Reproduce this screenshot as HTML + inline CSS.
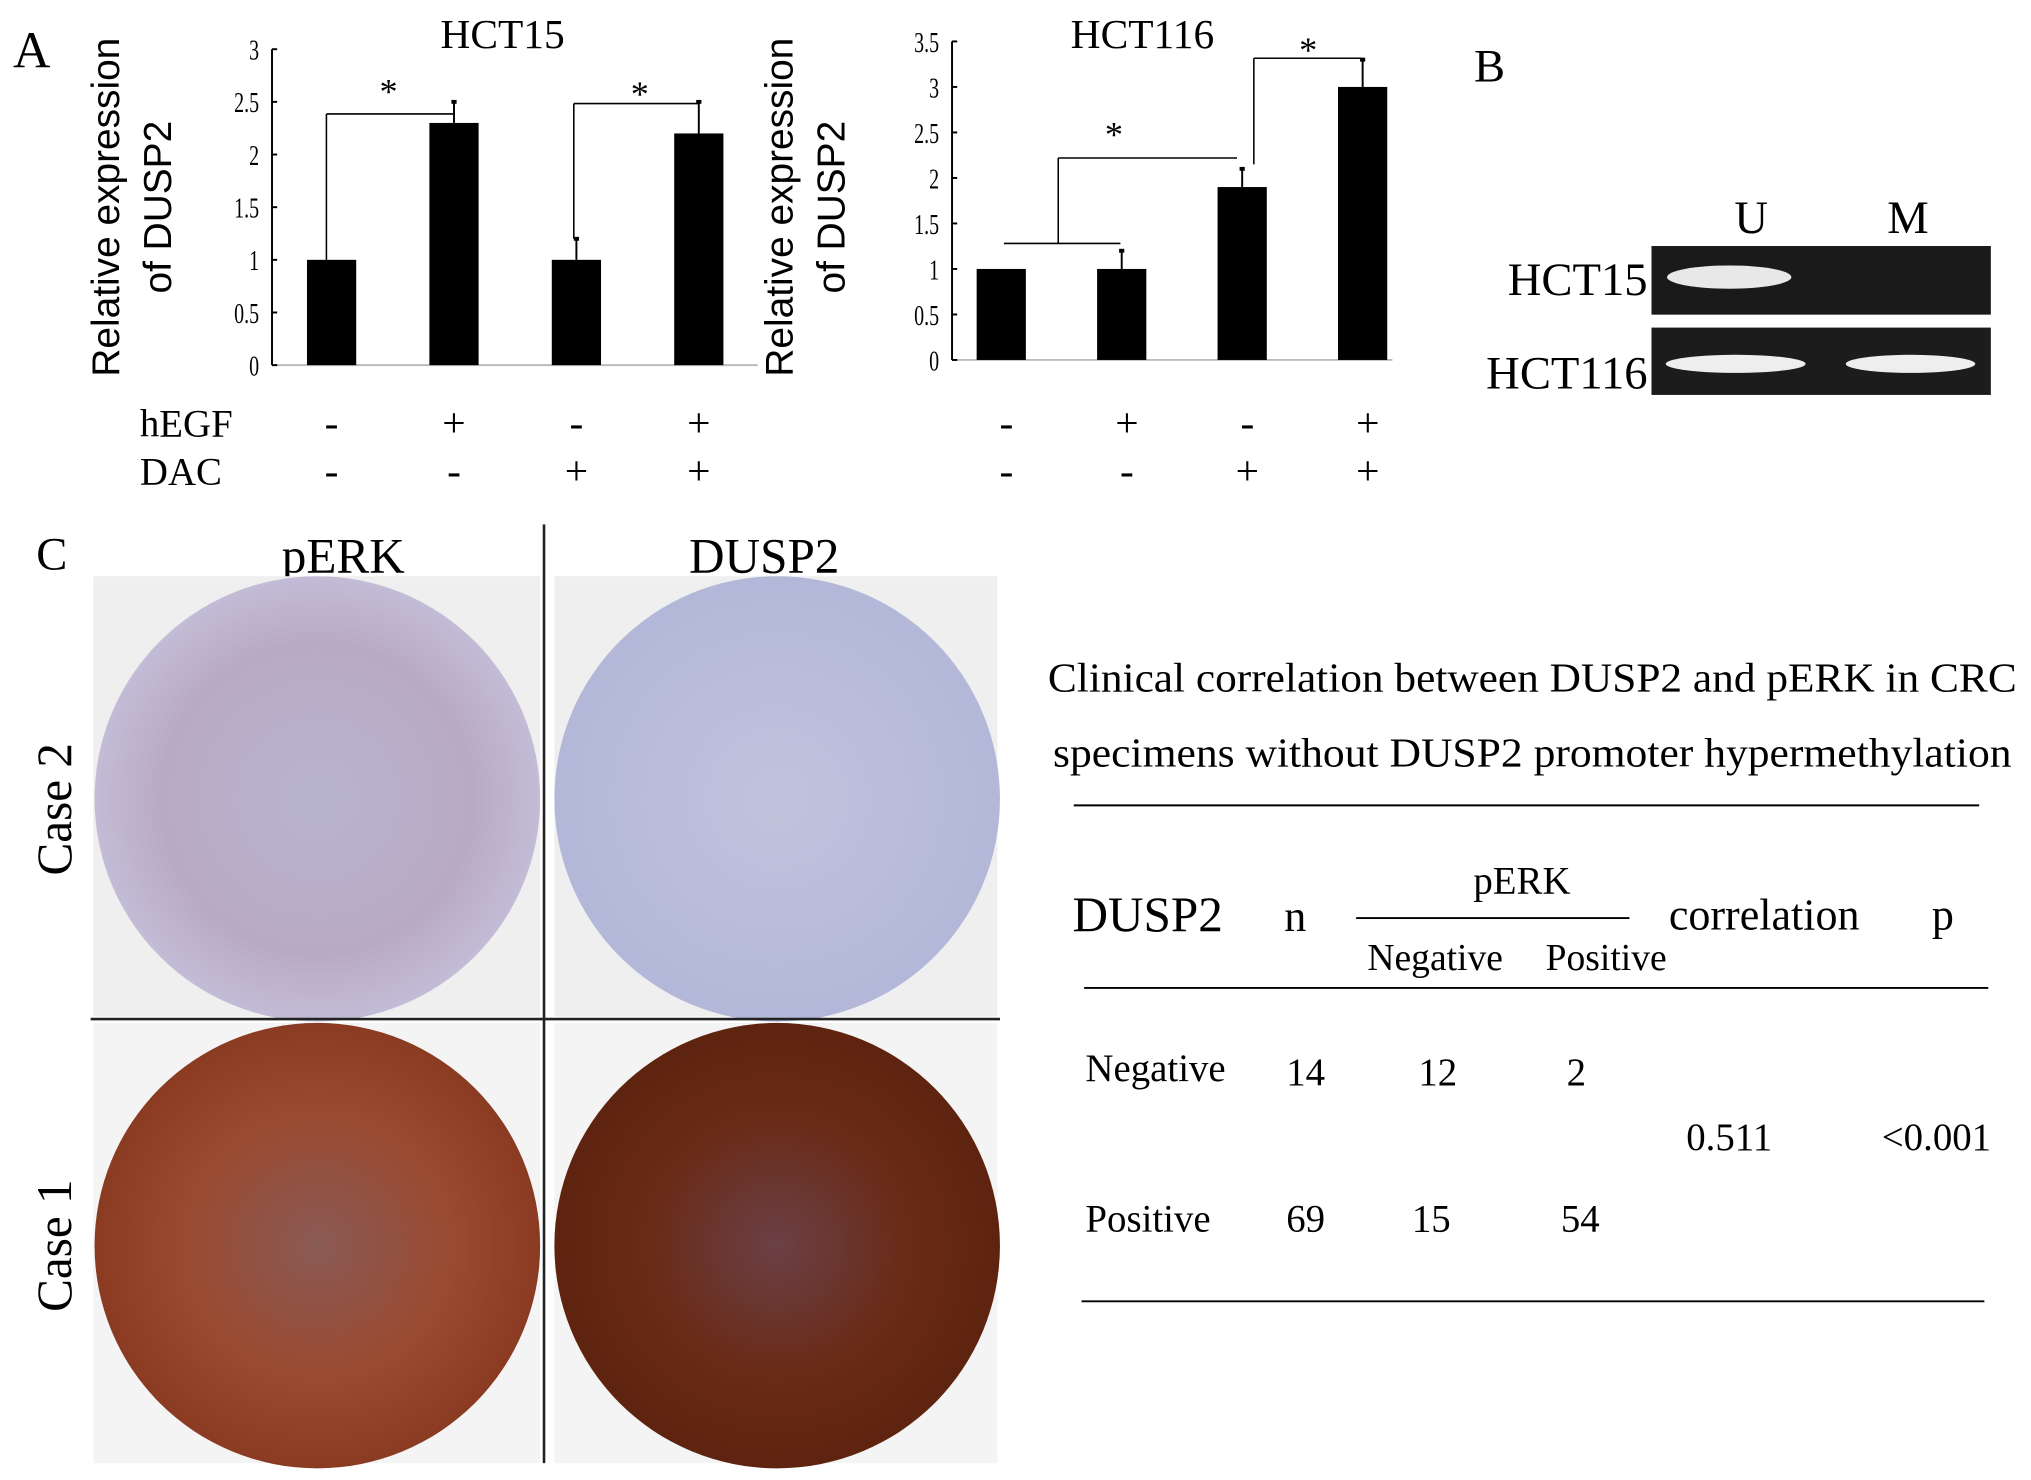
<!DOCTYPE html>
<html><head><meta charset="utf-8"><style>
html,body{margin:0;padding:0;background:#fff;}
svg{display:block;}
text{font-family:"Liberation Serif",serif;fill:#000;}
</style></head><body>
<svg id="fig" width="2031" height="1480" viewBox="0 0 1568 1143" preserveAspectRatio="none" xmlns="http://www.w3.org/2000/svg">
<defs>
<radialGradient id="g1" cx="50%" cy="50%" r="50%"><stop offset="0" stop-color="#b8b4cf"/><stop offset="0.7" stop-color="#b9aac4"/><stop offset="1" stop-color="#c3bcd6"/></radialGradient>
<radialGradient id="g2" cx="50%" cy="50%" r="50%"><stop offset="0" stop-color="#c1c3dd"/><stop offset="1" stop-color="#b3b8d8"/></radialGradient>
<radialGradient id="g3" cx="50%" cy="50%" r="50%"><stop offset="0" stop-color="#8a5a55"/><stop offset="0.6" stop-color="#9a4a30"/><stop offset="1" stop-color="#8a3b22"/></radialGradient>
<radialGradient id="g4" cx="50%" cy="50%" r="50%"><stop offset="0" stop-color="#6b4046"/><stop offset="0.6" stop-color="#6a2a15"/><stop offset="1" stop-color="#5e240f"/></radialGradient>
</defs>
<text x="10" y="52" font-size="40">A</text>
<text x="108" y="337" font-size="30">hEGF</text>
<text x="108" y="374" font-size="30">DAC</text>
<g id="c1"></g>
<g id="c2"></g>
<!-- B -->
<text x="1138" y="63" font-size="36">B</text>
<text x="1352" y="180" font-size="36" text-anchor="middle">U</text>
<text x="1473" y="180" font-size="36" text-anchor="middle">M</text>
<text x="1272" y="228" font-size="36" text-anchor="end">HCT15</text>
<text x="1272" y="300" font-size="36" text-anchor="end">HCT116</text>
<rect x="1275" y="190" width="262" height="53" fill="#1a1a1a"/>
<ellipse cx="1335" cy="214" rx="48" ry="9" fill="#e8e8e8"/>
<rect x="1275" y="253" width="262" height="52" fill="#1c1c1c"/>
<ellipse cx="1340" cy="281" rx="54" ry="7" fill="#eee"/>
<ellipse cx="1475" cy="281" rx="50" ry="7" fill="#eee"/>
<!-- C -->
<text x="28" y="440" font-size="36">C</text>
<text x="265" y="442" font-size="38" text-anchor="middle">pERK</text>
<text x="590" y="442" font-size="38" text-anchor="middle">DUSP2</text>
<rect x="72" y="445" width="345" height="340" fill="#efefef"/>
<rect x="428" y="445" width="342" height="340" fill="#efefef"/>
<rect x="72" y="790" width="345" height="340" fill="#f4f4f4"/>
<rect x="428" y="790" width="342" height="340" fill="#f4f4f4"/>
<circle cx="245" cy="617" r="172" fill="url(#g1)"/>
<circle cx="600" cy="617" r="172" fill="url(#g2)"/>
<circle cx="245" cy="962" r="172" fill="url(#g3)"/>
<circle cx="600" cy="962" r="172" fill="url(#g4)"/>
<line x1="420" y1="405" x2="420" y2="1130" stroke="#222" stroke-width="2"/>
<line x1="70" y1="787" x2="772" y2="787" stroke="#222" stroke-width="2"/>
<text transform="translate(55,625) rotate(-90)" font-size="38" text-anchor="middle">Case 2</text>
<text transform="translate(55,962) rotate(-90)" font-size="38" text-anchor="middle">Case 1</text>
<g>
<text x="1183" y="534" font-size="32" text-anchor="middle" textLength="748" lengthAdjust="spacingAndGlyphs">Clinical correlation between DUSP2 and pERK in CRC</text>
<text x="1183" y="592" font-size="32" text-anchor="middle" textLength="740" lengthAdjust="spacingAndGlyphs">specimens without DUSP2 promoter hypermethylation</text>
<line x1="829" y1="622" x2="1528" y2="622" stroke="#000" stroke-width="1.5"/>
<text x="828" y="719" font-size="38">DUSP2</text>
<text x="1000" y="719" font-size="34" text-anchor="middle">n</text>
<text x="1175" y="690" font-size="30" text-anchor="middle">pERK</text>
<line x1="1047" y1="709" x2="1258" y2="709" stroke="#000" stroke-width="1.5"/>
<text x="1108" y="749" font-size="29" text-anchor="middle">Negative</text>
<text x="1240" y="749" font-size="29" text-anchor="middle">Positive</text>
<text x="1362" y="718" font-size="34" text-anchor="middle">correlation</text>
<text x="1500" y="718" font-size="34" text-anchor="middle">p</text>
<line x1="837" y1="763" x2="1535" y2="763" stroke="#000" stroke-width="1.5"/>
<text x="838" y="835" font-size="30">Negative</text>
<text x="1008" y="838" font-size="30" text-anchor="middle">14</text>
<text x="1110" y="838" font-size="30" text-anchor="middle">12</text>
<text x="1217" y="838" font-size="30" text-anchor="middle">2</text>
<text x="1335" y="888" font-size="30" text-anchor="middle">0.511</text>
<text x="1495" y="888" font-size="30" text-anchor="middle">&lt;0.001</text>
<text x="838" y="951" font-size="30">Positive</text>
<text x="1008" y="951" font-size="30" text-anchor="middle">69</text>
<text x="1105" y="951" font-size="30" text-anchor="middle">15</text>
<text x="1220" y="951" font-size="30" text-anchor="middle">54</text>
<line x1="835" y1="1005" x2="1532" y2="1005" stroke="#000" stroke-width="1.5"/>
</g>
</svg>
<script>
const NS="http://www.w3.org/2000/svg";
const hct15Values=[1,2.3,1,2.2];
const hct15Errors=[0,0.2,0.2,0.3];
const hct15Ticks=["0","0.5","1","1.5","2","2.5","3"];
const hct116Values=[1,1,1.9,3];
const hct116Errors=[0,0.2,0.2,0.3];
const hct116Ticks=["0","0.5","1","1.5","2","2.5","3","3.5"];
const hegfSigns=["-","+","-","+"];
const dacSigns=["-","-","+","+"];
function mk(p,tag,a){const e=document.createElementNS(NS,tag);for(const k in a)e.setAttribute(k,a[k]);p.appendChild(e);return e;}
function chart(g,cfg){
 const y=v=>cfg.y0-(v/cfg.max)*(cfg.y0-cfg.yTop);
 const x=i=>cfg.x0+i*cfg.dx;
 mk(g,'line',{x1:cfg.ax,y1:cfg.yTop,x2:cfg.ax,y2:cfg.y0,stroke:'#000','stroke-width':1.5});
 mk(g,'line',{x1:cfg.ax,y1:cfg.y0,x2:cfg.xEnd,y2:cfg.y0,stroke:'#bbb','stroke-width':1.5});
 cfg.ticks.forEach((t,i)=>{const v=i*0.5;
  mk(g,'line',{x1:cfg.ax,y1:y(v),x2:cfg.ax+4,y2:y(v),stroke:'#000','stroke-width':1.5});
  const tx=mk(g,'text',{x:cfg.ax-10,y:y(v)+8,'font-size':22,'text-anchor':'end',transform:`translate(${cfg.ax-10},${y(v)}) scale(0.7,1) translate(${-(cfg.ax-10)},${-y(v)})`,fill:'#333'});tx.textContent=t;
  
  });
 cfg.vals.forEach((v,i)=>{
  const r=mk(g,'rect',{x:x(i)-19,y:y(v),width:38,height:cfg.y0-y(v),fill:'#000'});
  
  
  const e=cfg.errs[i];
  if(e>0){mk(g,'line',{x1:x(i),y1:y(v),x2:x(i),y2:y(v+e),stroke:'#000','stroke-width':1.5});
   mk(g,'line',{x1:x(i)-2,y1:y(v+e),x2:x(i)+2,y2:y(v+e),stroke:'#000','stroke-width':3});}
  const a=mk(g,'text',{x:x(i)+cfg.sx,y:337,'font-size':32,'text-anchor':'middle'});a.textContent=hegfSigns[i];
  
  
  const b=mk(g,'text',{x:x(i)+cfg.sx,y:374,'font-size':32,'text-anchor':'middle'});b.textContent=dacSigns[i];
  
  
 });
 const t=mk(g,'text',{x:cfg.tx,y:37,'font-size':32,'text-anchor':'middle'});t.textContent=cfg.name;
 
 
 const yl=mk(g,'text',{transform:`translate(${cfg.ylx},160) rotate(-90)`,'font-size':30,'text-anchor':'middle',style:'font-family:"Liberation Sans",sans-serif'});yl.textContent='Relative expression';
 
 
 const yl2=mk(g,'text',{transform:`translate(${cfg.ylx+40},160) rotate(-90)`,'font-size':30,'text-anchor':'middle',style:'font-family:"Liberation Sans",sans-serif'});yl2.textContent='of DUSP2';
 
 
 return {x,y};
}
const g1=document.getElementById('c1');
const a=chart(g1,{name:'HCT15',vals:hct15Values,errs:hct15Errors,ticks:hct15Ticks,max:3,y0:282,yTop:38,ax:210,xEnd:585,x0:256,dx:94.5,sx:0,tx:388,ylx:92});
const L=(g,x1,y1,x2,y2)=>mk(g,'line',{x1,y1,x2,y2,stroke:'#000','stroke-width':1.2});
L(g1,a.x(0)-4,a.y(1),a.x(0)-4,88);L(g1,a.x(0)-4,88,a.x(1),88);
L(g1,a.x(2)-2,a.y(1.2),a.x(2)-2,80);L(g1,a.x(2)-2,80,a.x(3),80);
mk(g1,'text',{x:300,y:80,'font-size':28,'text-anchor':'middle'}).textContent='*';
mk(g1,'text',{x:494,y:82,'font-size':28,'text-anchor':'middle'}).textContent='*';
const g2=document.getElementById('c2');
const b=chart(g2,{name:'HCT116',vals:hct116Values,errs:hct116Errors,ticks:hct116Ticks,max:3.5,y0:278,yTop:32,ax:735,xEnd:1075,x0:773,dx:93,sx:4,tx:882,ylx:612});
L(g2,775,188,865,188);L(g2,817,188,817,122);L(g2,817,122,955,122);
L(g2,968,b.y(2.15),968,45);L(g2,968,45,1052,45);
mk(g2,'text',{x:860,y:113,'font-size':28,'text-anchor':'middle'}).textContent='*';
mk(g2,'text',{x:1010,y:48,'font-size':28,'text-anchor':'middle'}).textContent='*';
</script>
</body></html>
